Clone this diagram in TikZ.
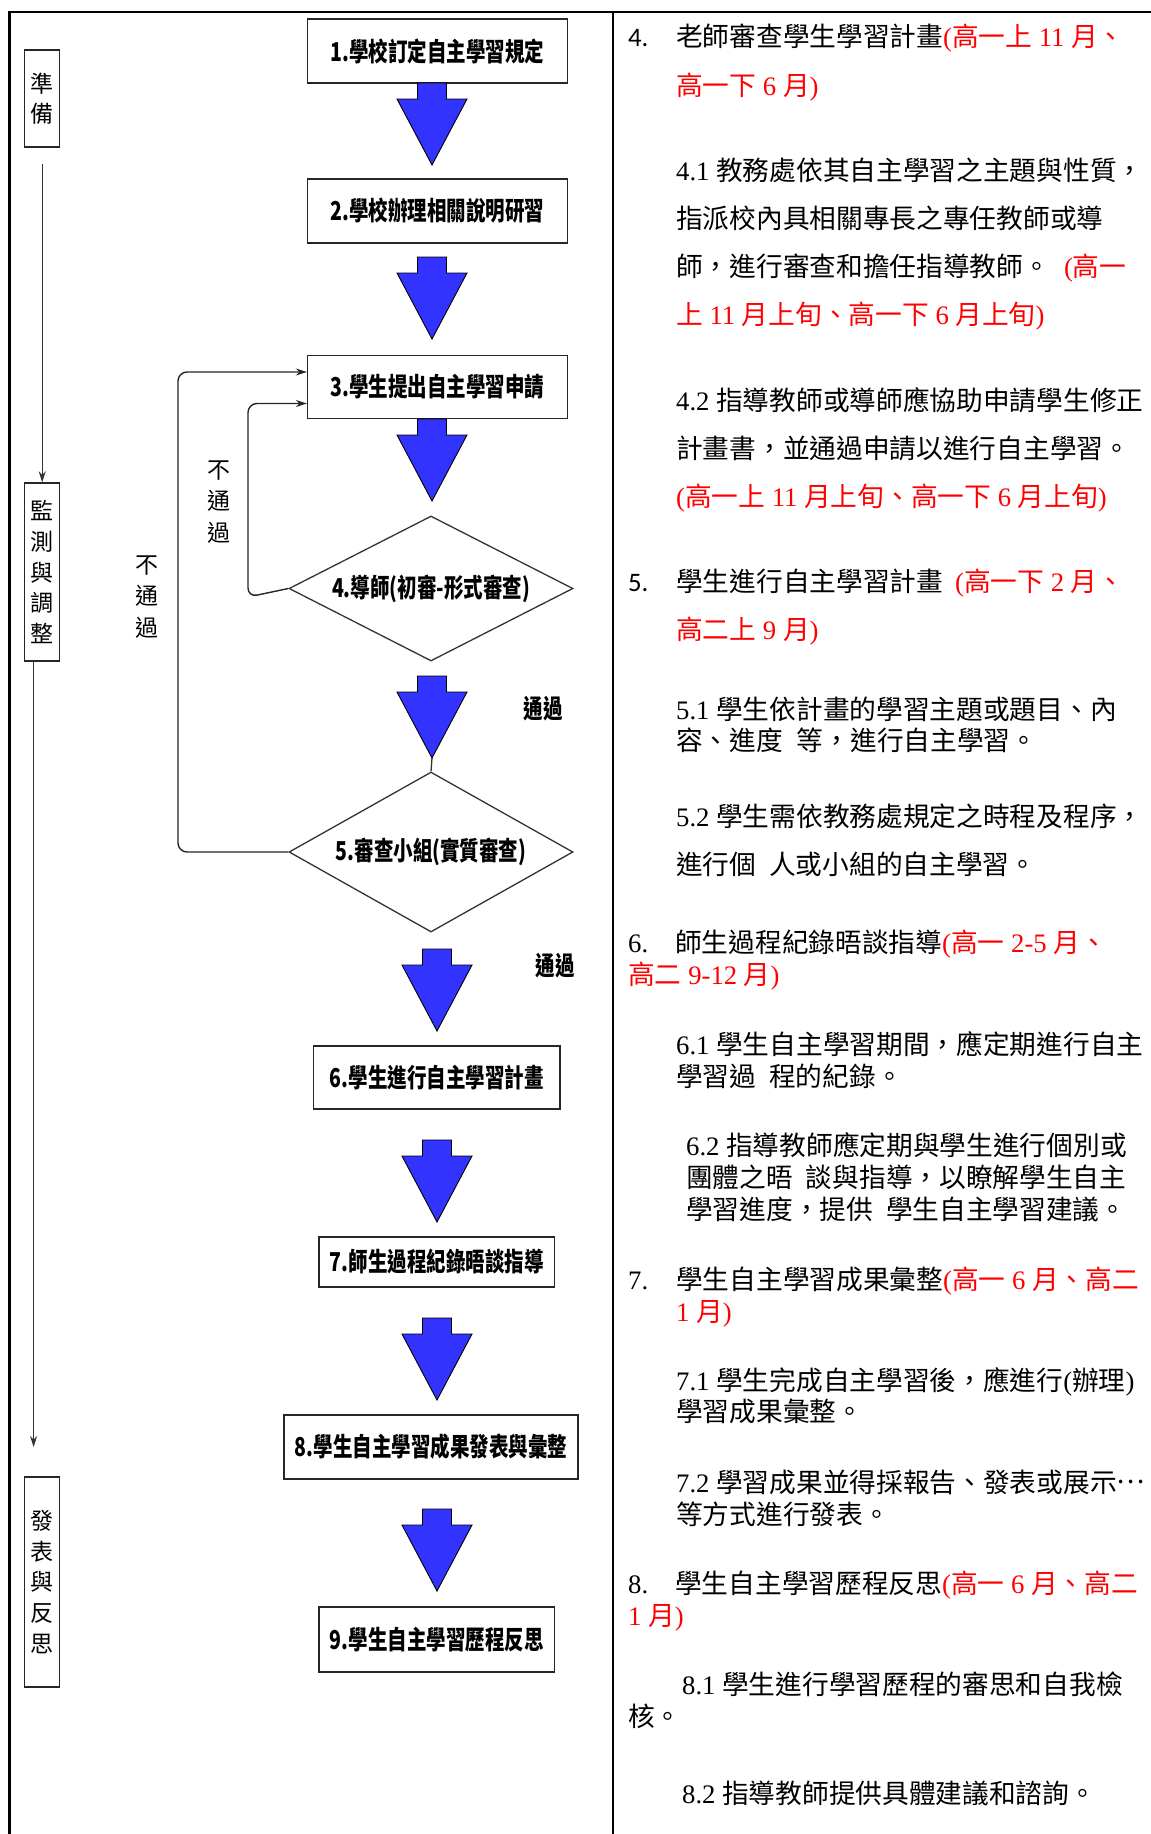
\documentclass[tikz,border=0pt]{standalone}
\usepackage{fontspec}
\setmainfont{Liberation Serif}
\newfontfamily\cj{Noto Sans CJK TC}
\newfontfamily\boxfont{Noto Sans CJK TC}[FakeStretch=0.75]
\newfontfamily\numsans{Carlito}
\usetikzlibrary{shapes.geometric,arrows.meta}
\definecolor{arrowblue}{RGB}{51,51,255}
\definecolor{redtext}{RGB}{255,0,0}
\newcommand\zh[1]{{\cj #1}}
\newcommand\rd[1]{{\color{redtext}#1}}
\newcommand\barrow[2]{%
  \filldraw[fill=arrowblue,draw=black,line width=0.9,line join=miter]
  (#1-14.5,#2) -- (#1+14.5,#2) -- (#1+14.5,#2+16) -- (#1+35,#2+16) --
  (#1,#2+82) -- (#1-35,#2+16) -- (#1-14.5,#2+16) -- cycle;}
\begin{document}
\begin{tikzpicture}[x=1pt,y=-1pt,
  txt/.style={anchor=base west,inner sep=0,font=\fontsize{26.7}{30}\selectfont},
  fbox/.style={draw=black!85,line width=1.6,inner sep=0,
    font=\boxfont\bfseries\fontsize{26}{26}\selectfont},
  dbox/.style={diamond,aspect=2,draw=black!80,line width=1.3,inner sep=0,
    font=\boxfont\bfseries\fontsize{26}{26}\selectfont},
  vbox/.style={draw=black!85,line width=1.4,inner sep=0,minimum width=35,align=center},
  vlabel/.style={inner sep=0,align=center,font=\fontsize{23}{31.5}\selectfont\cj},
  passlbl/.style={inner sep=0,font=\boxfont\bfseries\fontsize{26}{26}\selectfont},
  thinline/.style={draw=black!80,line width=1.2,-{Stealth[length=11pt,width=7pt]}},
  loopline/.style={draw=black!85,line width=1.4,rounded corners=9,-{Stealth[length=11pt,width=7pt]}}
]
\useasboundingbox (0,0) rectangle (1151,1834);
\fill[white] (0,0) rectangle (1151,1834);
% frame
\draw[line width=2.4] (1151,11.7) -- (9.4,11.7) -- (9.4,1840);
\draw[line width=2.2] (613,11.7) -- (613,1840);

% left phase boxes
\node[vbox,minimum height=97,font=\fontsize{23}{29.5}\selectfont\cj] (prep) at (42.2,98.5) {準\\備};
\node[vbox,minimum height=178,font=\fontsize{23}{30.8}\selectfont\cj] (mon) at (42.2,572) {監\\測\\與\\調\\整};
\node[vbox,minimum height=210,font=\fontsize{23}{30.8}\selectfont\cj] (pub) at (42.2,1582) {發\\表\\與\\反\\思};
\coordinate (p0) at (42.2,164);
\draw[thinline] (p0) -- (mon.north);
\coordinate (m0) at (33.6,661);
\coordinate (m1) at (33.6,1447);
\draw[thinline] (m0) -- (m1);

% flow boxes
\node[fbox,minimum width=259.7,minimum height=64.3] (b1) at (437.5,51) {1.學校訂定自主學習規定};
\node[fbox,minimum width=259.7,minimum height=64] (b2) at (437.5,211) {2.學校辦理相關說明研習};
\node[fbox,minimum width=259.7,minimum height=63] (b3) at (437.5,387) {3.學生提出自主學習申請};
\node[dbox,minimum width=284,minimum height=145] (d4) at (431,588.5) {4.導師(初審-形式審查)};
\node[dbox,minimum width=284,minimum height=160] (d5) at (431,852) {5.審查小組(實質審查)};
\node[fbox,minimum width=246.5,minimum height=63] (b6) at (436.8,1077.5) {6.學生進行自主學習計畫};
\node[fbox,minimum width=235.5,minimum height=49.5] (b7) at (436.8,1262) {7.師生過程紀錄晤談指導};
\node[fbox,minimum width=294,minimum height=63.5] (b8) at (431,1447) {8.學生自主學習成果發表與彙整};
\node[fbox,minimum width=235.5,minimum height=64.5] (b9) at (436.8,1639.5) {9.學生自主學習歷程反思};

% big blue arrows
\barrow{432}{83}
\barrow{432}{257}
\barrow{432}{419}
\barrow{432}{676}
\barrow{437}{949}
\barrow{437}{1140}
\barrow{437}{1318}
\barrow{437}{1509}
\coordinate (a4tip) at (432,758);
\draw[draw=black!80,line width=1.3] (a4tip) -- (d5.north);

% pass labels
\node[passlbl] (pass1) at (543,709) {通過};
\node[passlbl] (pass2) at (555,966) {通過};

% fail loops
\draw[loopline] (d4.west) -- (248,597) -- (248,403.5) -- ([yshift=-16.5pt]b3.west);
\draw[loopline] (d5.west) -- (178,852) -- (178,372) -- ([yshift=15pt]b3.west);
\node[vlabel] (fail1) at (219,502) {不\\通\\過};
\node[vlabel] (fail2) at (147.4,597) {不\\通\\過};

% right column text
\node[txt] (t1) at (628,46.3) {\numsans 4.};
\node[txt] (t2) at (676,46.3) {\zh{老師審查學生學習計畫}\rd{(\zh{高一上} 11 \zh{月、}}};
\node[txt] (t3) at (676,95.4) {\rd{\zh{高一下} 6 \zh{月})}};
\node[txt] (t4) at (676,180.8) {4.1 \zh{教務處依其自主學習之主題與性質，}};
\node[txt] (t5) at (676,228.7) {\zh{指派校內具相關專長之專任教師或導}};
\node[txt] (t6) at (676,276.7) {\zh{師，進行審查和擔任指導教師。}\hspace{14pt}\rd{(\zh{高一}}};
\node[txt] (t7) at (676,324.7) {\rd{\zh{上} 11 \zh{月上旬、高一下} 6 \zh{月上旬})}};
\node[txt] (t8) at (676,410) {4.2 \zh{指導教師或導師應協助申請學生修正}};
\node[txt] (t9) at (676,458) {\zh{計畫書，並通過申請以進行自主學習。}};
\node[txt] (t10) at (676,506) {\rd{(\zh{高一上} 11 \zh{月上旬、高一下} 6 \zh{月上旬})}};
\node[txt] (t11) at (628,591) {\numsans 5.};
\node[txt] (t12) at (676,591) {\zh{學生進行自主學習計畫}\hspace{12pt}\rd{(\zh{高一下} 2 \zh{月、}}};
\node[txt] (t13) at (676,639) {\rd{\zh{高二上} 9 \zh{月})}};
\node[txt] (t14) at (676,719) {5.1 \zh{學生依計畫的學習主題或題目、內}};
\node[txt] (t15) at (676,750.4) {\zh{容、進度}\hspace{14pt}\zh{等，進行自主學習。}};
\node[txt] (t16) at (676,826.5) {5.2 \zh{學生需依教務處規定之時程及程序，}};
\node[txt] (t17) at (676,874.4) {\zh{進行個}\hspace{13pt}\zh{人或小組的自主學習。}};
\node[txt] (t18) at (628,952.8) {6.};
\node[txt] (t19) at (675,952.8) {\zh{師生過程紀錄晤談指導}\rd{(\zh{高一} 2-5 \zh{月、}}};
\node[txt] (t20) at (628,984.4) {\rd{\zh{高二} 9-12 \zh{月})}};
\node[txt] (t21) at (676,1054.5) {6.1 \zh{學生自主學習期間，應定期進行自主}};
\node[txt] (t22) at (676,1086) {\zh{學習過}\hspace{13pt}\zh{程的紀錄。}};
\node[txt] (t23) at (686,1155) {6.2 \zh{指導教師應定期與學生進行個別或}};
\node[txt] (t24) at (686,1187) {\zh{團體之晤}\hspace{13pt}\zh{談與指導，以瞭解學生自主}};
\node[txt] (t25) at (686,1219.5) {\zh{學習進度，提供}\hspace{13pt}\zh{學生自主學習建議。}};
\node[txt] (t26) at (628,1289.7) {7.};
\node[txt] (t27) at (676,1289.7) {\zh{學生自主學習成果彙整}\rd{(\zh{高一} 6 \zh{月、高二}}};
\node[txt] (t28) at (676,1321) {\rd{1 \zh{月})}};
\node[txt] (t29) at (676,1390.2) {7.1 \zh{學生完成自主學習後，應進行}(\zh{辦理})};
\node[txt] (t30) at (676,1421.8) {\zh{學習成果彙整。}};
\node[txt] (t31) at (676,1492) {7.2 \zh{學習成果並得採報告、發表或展示}\raisebox{0.33em}{\zh{…}}};
\node[txt] (t32) at (676,1524.8) {\zh{等方式進行發表。}};
\node[txt] (t33) at (628,1593.8) {8.};
\node[txt] (t34) at (675,1593.8) {\zh{學生自主學習歷程反思}\rd{(\zh{高一} 6 \zh{月、高二}}};
\node[txt] (t35) at (628,1625.4) {\rd{1 \zh{月})}};
\node[txt] (t36) at (682,1694.4) {8.1 \zh{學生進行學習歷程的審思和自我檢}};
\node[txt] (t37) at (628,1726) {\zh{核。}};
\node[txt] (t38) at (682,1803) {8.2 \zh{指導教師提供具體建議和諮詢。}};
\end{tikzpicture}
\end{document}
